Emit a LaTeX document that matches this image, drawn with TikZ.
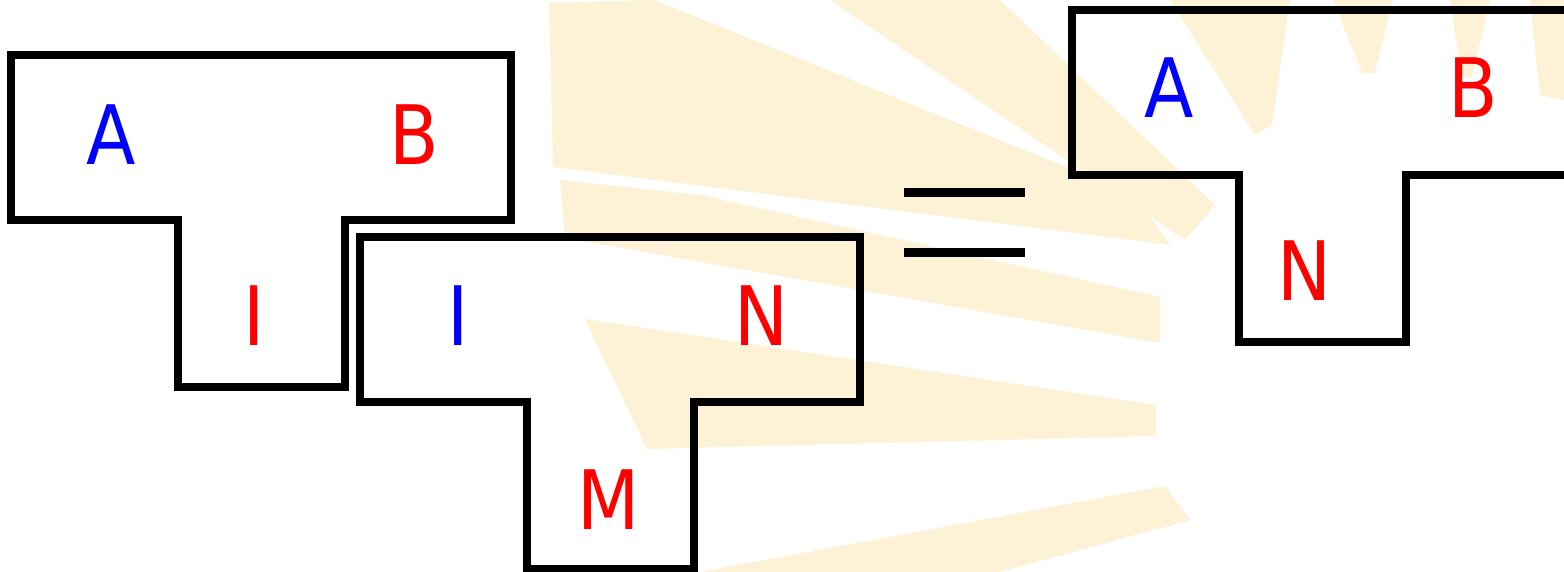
\documentclass[tikz,border=0pt]{standalone}
\usepackage{fontspec}
\newfontfamily\labelfont[FakeStretch=0.88]{DejaVu Sans}
\definecolor{wmark}{RGB}{253,242,214}
\definecolor{tblue}{RGB}{0,0,255}
\definecolor{tred}{RGB}{255,0,0}
\tikzset{
  ray/.style={fill=wmark, draw=none},
  tile/.style={draw=black, line width=3.6pt, line join=miter},
  eqbar/.style={draw=black, line width=4.2pt},
  lab/.style={font=\labelfont\fontsize{41}{41}\selectfont, inner sep=0pt, anchor=base},
  labblue/.style={lab, text=tblue},
  labred/.style={lab, text=tred},
  tee/.pic={\path[tile] (0,0) -- (500,0) -- (500,165) -- (334,165) -- (334,332) -- (167,332) -- (167,165) -- (0,165) -- cycle;}
}
\begin{document}
\begin{tikzpicture}[x=0.5pt, y=-0.5pt]
\useasboundingbox (0,0) rectangle (1564,572);
\clip (0,0) rectangle (1564,572);
% faint watermark rays
\fill[ray] (549,3) -- (655,0) -- (1135,195) -- (1170,245) -- (553,167) -- cycle;
\fill[ray] (830,0) -- (1000,0) -- (1215,205) -- (1185,240) -- cycle;
\fill[ray] (560,180) -- (700,195) -- (1160,297) -- (1160,343) -- (565,238) -- cycle;
\fill[ray] (585,319) -- (1156,405) -- (1156,436) -- (647,449) -- cycle;
\fill[ray] (700,572) -- (1165,486) -- (1190,520) -- (1000,572) -- cycle;
\fill[ray] (1170,0) -- (1290,0) -- (1272,125) -- (1255,135) -- cycle;
\fill[ray] (1333,0) -- (1393,0) -- (1375,73) -- (1362,73) -- cycle;
\fill[ray] (1450,0) -- (1490,0) -- (1472,77) -- (1462,77) -- cycle;
\fill[ray] (1530,0) -- (1564,0) -- (1564,100) -- (1540,95) -- cycle;
% tiles
\pic at (11,55) {tee};
\pic at (360,237) {tee};
\pic at (1072,10) {tee};
% equals sign
\coordinate (e1l) at (904,192.5);
\coordinate (e1r) at (1025,192.5);
\coordinate (e2l) at (904,252.5);
\coordinate (e2r) at (1025,252.5);
\draw[eqbar] (e1l) -- (e1r);
\draw[eqbar] (e2l) -- (e2r);
% labels
\node[labblue] (a1) at (111,165) {A};
\node[labred]  (b1) at (414,165) {B};
\node[labred]  (i1) at (254,346) {I};
\node[labblue] (i2) at (458,346) {I};
\node[labred]  (n2) at (761,346) {N};
\node[labred]  (m2) at (609,529) {M};
\node[labblue] (a3) at (1169,118) {A};
\node[labred]  (b3) at (1473,118) {B};
\node[labred]  (n3) at (1304,300) {N};
\end{tikzpicture}
\end{document}
